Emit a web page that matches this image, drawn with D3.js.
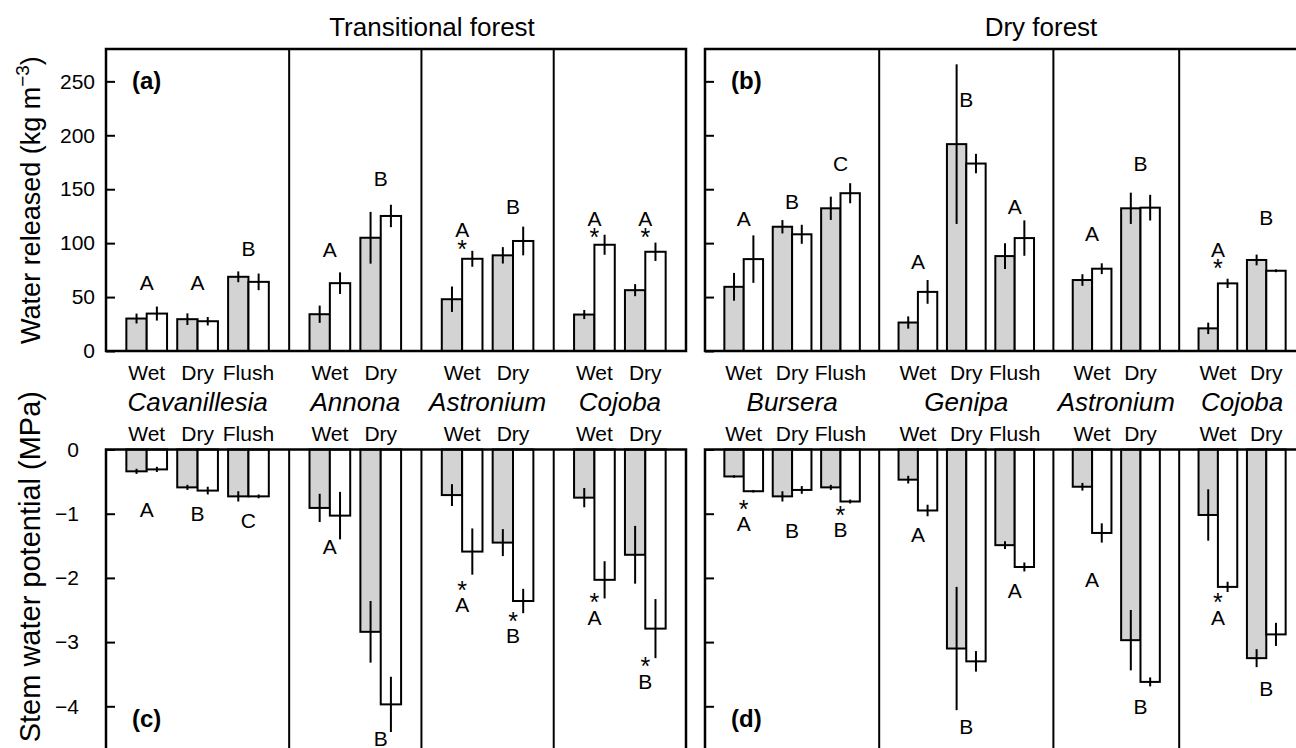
<!DOCTYPE html>
<html>
<head>
<meta charset="utf-8">
<script src="https://cdn.jsdelivr.net/npm/d3@7"></script>
<style>
  body { margin: 0; background: #fff; }
  text { font-family: "Liberation Sans", Arial, Helvetica, sans-serif; fill: #000; }
</style>
</head>
<body>
<svg id="chart" width="1296" height="748"></svg>
<script>
// forests, species and seasons (one entry per bar pair)
const forests = ["Transitional forest", "Dry forest"];
const speciesT = ["Cavanillesia", "Annona", "Astronium", "Cojoba"];
const speciesD = ["Bursera", "Genipa", "Astronium", "Cojoba"];
const seasonsT = [["Wet", "Dry", "Flush"], ["Wet", "Dry"], ["Wet", "Dry"], ["Wet", "Dry"]];
const seasonsD = [["Wet", "Dry", "Flush"], ["Wet", "Dry", "Flush"], ["Wet", "Dry"], ["Wet", "Dry"]];

// water released (kg m-3), grey and white bars, mean and se
const wrGreyT = [30.1, 29.5, 68.8, 34.1, 105, 48, 88.7, 33.8, 56.4];
const wrGreySeT = [4.6, 5.4, 5, 8, 24, 11.8, 7.6, 4.2, 5.6];
const wrWhiteT = [34.7, 27.6, 64.1, 62.9, 125.2, 85.5, 102, 98.5, 92];
const wrWhiteSeT = [6.5, 3.9, 7.7, 10, 10.4, 7.4, 13.3, 9.3, 8.5];
const wrGreyD = [59.5, 115.2, 132.3, 26.4, 191.8, 88, 65.8, 132.3, 21, 84.4];
const wrGreySeD = [12.9, 6.2, 10.8, 5.7, 74, 12, 5.4, 14.5, 5.3, 5];
const wrWhiteD = [85.2, 108.2, 146.3, 54.8, 173.8, 104.7, 76.3, 132.9, 62.7, 74.4];
const wrWhiteSeD = [22, 8.8, 9.3, 11, 9, 16.4, 5, 11.9, 4.3, 1.3];

// stem water potential (MPa)
const swpGreyT = [-0.34, -0.59, -0.73, -0.91, -2.84, -0.71, -1.45, -0.75, -1.64];
const swpGreySeT = [0.04, 0.04, 0.08, 0.22, 0.48, 0.17, 0.21, 0.15, 0.45];
const swpWhiteT = [-0.31, -0.64, -0.73, -1.03, -3.97, -1.59, -2.36, -2.03, -2.79];
const swpWhiteSeT = [0.04, 0.06, 0.03, 0.37, 0.43, 0.36, 0.19, 0.29, 0.46];
const swpGreyD = [-0.42, -0.73, -0.59, -0.47, -3.10, -1.49, -0.58, -2.97, -1.02, -3.25];
const swpGreySeD = [0.02, 0.08, 0.04, 0.06, 0.96, 0.06, 0.06, 0.47, 0.4, 0.14];
const swpWhiteD = [-0.65, -0.63, -0.81, -0.95, -3.30, -1.83, -1.30, -3.62, -2.14, -2.88];
const swpWhiteSeD = [0.02, 0.06, 0.03, 0.09, 0.16, 0.07, 0.15, 0.07, 0.08, 0.18];

// significance letters, asterisks and where the letter sits (data units)
const lettersA = ["A", "A", "B", "A", "B", "A", "B", "A", "A"];
const starsA = [0, 0, 0, 0, 0, 1, 0, 1, 1];
const letterAtA = [63.3, 63.3, 94.6, 94.3, 159.5, 112.2, 133.8, 123, 123];
const lettersB = ["A", "B", "C", "A", "B", "A", "A", "B", "A", "B"];
const starsB = [0, 0, 0, 0, 0, 0, 0, 0, 1, 0];
const letterAtB = [123, 138.4, 174, 83.4, 233.6, 134.4, 109.1, 174, 94.3, 124];
const lettersC = ["A", "B", "C", "A", "B", "A", "B", "A", "B"];
const starsC = [0, 0, 0, 0, 0, 1, 1, 1, 1];
const letterAtC = [-0.93, -1.0, -1.1, -1.51, -4.5, -2.42, -2.9, -2.61, -3.61];
const lettersD = ["A", "B", "B", "A", "B", "A", "A", "B", "A", "B"];
const starsD = [1, 0, 1, 0, 0, 0, 0, 0, 1, 0];
const letterAtD = [-1.16, -1.26, -1.25, -1.32, -4.31, -2.2, -2.02, -4.01, -2.61, -3.72];

const wrTicks = [0, 50, 100, 150, 200, 250];
const swpTicks = [0, -1, -2, -3, -4];

const svg = d3.select("#chart");
const grey = "#d3d3d3";

const yTop = d3.scaleLinear().domain([0, 280]).range([351, 49]);
const yBot = d3.scaleLinear().domain([-5, 0]).range([449.5 + 5 * 64.2, 449.5]);

const panels = [
  {forest: forests[0], species: speciesT, seasons: seasonsT, range: [106, 686],
   top: {m1: wrGreyT, s1: wrGreySeT, m2: wrWhiteT, s2: wrWhiteSeT, let: lettersA, star: starsA, at: letterAtA, tag: "(a)"},
   bot: {m1: swpGreyT, s1: swpGreySeT, m2: swpWhiteT, s2: swpWhiteSeT, let: lettersC, star: starsC, at: letterAtC, tag: "(c)"}},
  {forest: forests[1], species: speciesD, seasons: seasonsD, range: [705, 1305],
   top: {m1: wrGreyD, s1: wrGreySeD, m2: wrWhiteD, s2: wrWhiteSeD, let: lettersB, star: starsB, at: letterAtB, tag: "(b)"},
   bot: {m1: swpGreyD, s1: swpGreySeD, m2: swpWhiteD, s2: swpWhiteSeD, let: lettersD, star: starsD, at: letterAtD, tag: "(d)"}}
];

panels.forEach((p, pi) => {
  // bar units: 1 margin, 2 per group, 0.5 between groups, 1 margin
  let u = 0;
  const groupU = [], sections = [];
  p.species.forEach((sp, si) => {
    const start = u;
    u += 1;
    p.seasons[si].forEach((s, gi) => {
      groupU.push({u: u, label: s});
      u += 2 + (gi < p.seasons[si].length - 1 ? 0.5 : 0);
    });
    u += 1;
    sections.push([start, u]);
  });
  const x = d3.scaleLinear().domain([0, u]).range(p.range);
  const g = svg.append("g");

  // ---- top: water released ----
  const t = p.top;
  groupU.forEach((d, i) => {
    [[t.m1[i], grey, 0], [t.m2[i], "#fff", 1]].forEach(([m, fill, k]) => {
      g.append("rect")
        .attr("x", x(d.u + k)).attr("width", x(d.u + k + 1) - x(d.u + k))
        .attr("y", yTop(m)).attr("height", yTop(0) - yTop(m))
        .attr("fill", fill).attr("stroke", "#000").attr("stroke-width", 2);
    });
    [[t.m1[i], t.s1[i], 0.5], [t.m2[i], t.s2[i], 1.5]].forEach(([m, s, k]) => {
      g.append("line")
        .attr("x1", x(d.u + k)).attr("x2", x(d.u + k))
        .attr("y1", yTop(m - s)).attr("y2", yTop(Math.min(m + s, 280)))
        .attr("stroke", "#000").attr("stroke-width", 2);
    });
    const ly = yTop(t.at[i]);
    g.append("text").attr("x", x(d.u + 1)).attr("y", ly + 7.5)
      .attr("text-anchor", "middle").attr("font-size", 21).text(t.let[i]);
    if (t.star[i]) {
      g.append("text").attr("x", x(d.u + 1)).attr("y", ly + 14 + 14)
        .attr("text-anchor", "middle").attr("font-size", 25).text("*");
    }
  });

  // ---- bottom: stem water potential ----
  const b = p.bot;
  groupU.forEach((d, i) => {
    [[b.m1[i], grey, 0], [b.m2[i], "#fff", 1]].forEach(([m, fill, k]) => {
      g.append("rect")
        .attr("x", x(d.u + k)).attr("width", x(d.u + k + 1) - x(d.u + k))
        .attr("y", yBot(0)).attr("height", yBot(m) - yBot(0))
        .attr("fill", fill).attr("stroke", "#000").attr("stroke-width", 2);
    });
    [[b.m1[i], b.s1[i], 0.5], [b.m2[i], b.s2[i], 1.5]].forEach(([m, s, k]) => {
      g.append("line")
        .attr("x1", x(d.u + k)).attr("x2", x(d.u + k))
        .attr("y1", yBot(m - s)).attr("y2", yBot(m + s))
        .attr("stroke", "#000").attr("stroke-width", 2);
    });
    const ly = yBot(b.at[i]);
    g.append("text").attr("x", x(d.u + 1)).attr("y", ly + 7.5)
      .attr("text-anchor", "middle").attr("font-size", 21).text(b.let[i]);
    if (b.star[i]) {
      g.append("text").attr("x", x(d.u + 1)).attr("y", ly - 20 + 14)
        .attr("text-anchor", "middle").attr("font-size", 25).text("*");
    }
  });

  // frames and species dividers
  g.append("rect").attr("x", p.range[0]).attr("y", yTop(280))
    .attr("width", p.range[1] - p.range[0]).attr("height", yTop(0) - yTop(280))
    .attr("fill", "none").attr("stroke", "#000").attr("stroke-width", 2.5);
  g.append("rect").attr("x", p.range[0]).attr("y", yBot(0))
    .attr("width", p.range[1] - p.range[0]).attr("height", yBot(-5) - yBot(0))
    .attr("fill", "none").attr("stroke", "#000").attr("stroke-width", 2.5);
  sections.slice(0, -1).forEach(s => {
    g.append("line").attr("x1", x(s[1])).attr("x2", x(s[1]))
      .attr("y1", yTop(280)).attr("y2", yTop(0)).attr("stroke", "#000").attr("stroke-width", 2);
    g.append("line").attr("x1", x(s[1])).attr("x2", x(s[1]))
      .attr("y1", yBot(0)).attr("y2", yBot(-5)).attr("stroke", "#000").attr("stroke-width", 2);
  });

  // season labels and species names
  groupU.forEach(d => {
    g.append("text").attr("x", x(d.u + 1)).attr("y", 380)
      .attr("text-anchor", "middle").attr("font-size", 21).text(d.label);
    g.append("text").attr("x", x(d.u + 1)).attr("y", 441)
      .attr("text-anchor", "middle").attr("font-size", 21).text(d.label);
  });
  sections.forEach((s, si) => {
    g.append("text").attr("x", x((s[0] + s[1]) / 2)).attr("y", 411)
      .attr("text-anchor", "middle").attr("font-size", 26).attr("font-style", "italic")
      .text(p.species[si]);
  });

  // forest title
  g.append("text").attr("x", (p.range[0] + p.range[1]) / 2 + 36).attr("y", 36)
    .attr("text-anchor", "middle").attr("font-size", 26).text(p.forest);

  // panel tags
  g.append("text").attr("x", p.range[0] + 26).attr("y", 89)
    .attr("font-size", 24).attr("font-weight", "bold").text(t.tag);
  g.append("text").attr("x", p.range[0] + 26).attr("y", 727)
    .attr("font-size", 24).attr("font-weight", "bold").text(b.tag);

  // y axes, inward ticks
  const axT = g.append("g").attr("transform", `translate(${p.range[0]},0)`)
    .call(d3.axisLeft(yTop).tickValues(wrTicks).tickSize(-9).tickPadding(11)
      .tickFormat(d3.format("d")));
  const axB = g.append("g").attr("transform", `translate(${p.range[0]},0)`)
    .call(d3.axisLeft(yBot).tickValues(swpTicks).tickSize(-9).tickPadding(27)
      .tickFormat(d3.format("d")));
  [axT, axB].forEach(ax => {
    ax.select(".domain").remove();
    ax.selectAll(".tick line").attr("stroke-width", 2);
    ax.selectAll(".tick text").attr("font-size", 21)
      .attr("font-family", "'Liberation Sans', Arial, sans-serif");
    if (pi === 1) ax.selectAll(".tick text").remove();
  });
});

// axis titles
const yt1 = svg.append("text").attr("transform", "translate(40,200) rotate(-90)")
  .attr("text-anchor", "middle").attr("font-size", 27);
yt1.append("tspan").text("Water released (kg m");
yt1.append("tspan").attr("font-size", 19).attr("dy", -11).text("\u22123");
yt1.append("tspan").attr("dy", 11).text(")");

svg.append("text").attr("transform", "translate(40,391) rotate(-90)")
  .attr("text-anchor", "end").attr("font-size", 29).text("Stem water potential (MPa)");
</script>
</body>
</html>
